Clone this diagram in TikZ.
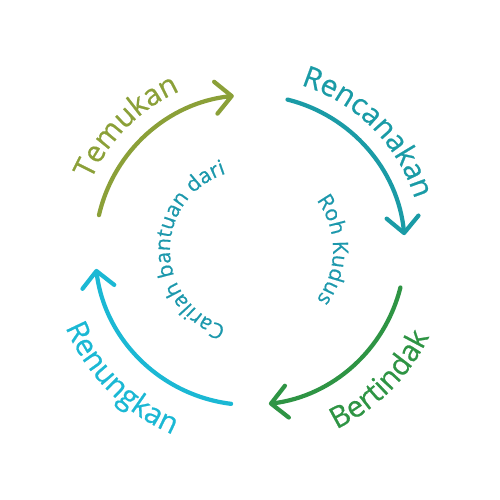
\documentclass[tikz,border=0pt]{standalone}
\usepackage{fontspec}
\setmainfont{Open Sans}[BoldFont={Open Sans}, BoldFeatures={FakeBold=0.6}]
\usetikzlibrary{arrows.meta, decorations.text}

\definecolor{tmkgreen}{RGB}{139,160,56}
\definecolor{rcnteal}{RGB}{26,155,166}
\definecolor{btdgreen}{RGB}{46,148,68}
\definecolor{rngcyan}{RGB}{27,184,212}
\definecolor{innerteal}{RGB}{28,152,172}

\newcommand{\outerfont}{\fontsize{16.8pt}{20pt}\bfseries\selectfont}
\newcommand{\innerfont}{\fontsize{12.1pt}{14pt}\bfseries\selectfont}

\begin{document}
\begin{tikzpicture}[
  cyclearc/.style = {line width=2.4pt, line cap=round,
                     -{Straight Barb[length=3.2mm, width=6.4mm, round]}},
  curvetext/.style = {decorate, decoration={text along path, text align=center,
                     text={#1}}},
]
  \useasboundingbox (0,0) rectangle (10,10);
  \coordinate (c) at (5,5);

  % the four arrows, clockwise
  \draw[cyclearc, tmkgreen] ([shift={(167:3.1)}]c) arc[start angle=167, end angle=96,  radius=3.1];
  \draw[cyclearc, rcnteal]  ([shift={(76:3.1)}]c)  arc[start angle=76,  end angle=5.5, radius=3.1];
  \draw[cyclearc, btdgreen] ([shift={(-14:3.1)}]c) arc[start angle=-14, end angle=-83, radius=3.1];
  \draw[cyclearc, rngcyan]  ([shift={(-97:3.1)}]c) arc[start angle=-97, end angle=-173, radius=3.1];

  % outer labels
  \path[curvetext={|\outerfont\color{tmkgreen}|Temukan}]
    ([shift={(175:3.47)}]c) arc[start angle=175, end angle=95, radius=3.47];
  \path[curvetext={|\outerfont\color{rcnteal}|Rencanakan}]
    ([shift={(85:3.45)}]c) arc[start angle=85, end angle=5, radius=3.45];
  \path[curvetext={|\outerfont\color{btdgreen}|Bertindak}]
    ([shift={(-85:3.98)}]c) arc[start angle=-85, end angle=-5, radius=3.98];
  \path[curvetext={|\outerfont\color{rngcyan}|Renungkan}]
    ([shift={(185:4.0)}]c) arc[start angle=185, end angle=265, radius=4.0];

  % inner text
  \path[curvetext={|\innerfont\color{innerteal}|Carilah bantuan dari}]
    ([shift={(270:1.6)}]c) arc[start angle=270, end angle=90, radius=1.6];
  \path[curvetext={|\innerfont\color{innerteal}|Roh Kudus}]
    ([shift={(60:1.66)}]c) arc[start angle=60, end angle=-60, radius=1.66];
\end{tikzpicture}
\end{document}
